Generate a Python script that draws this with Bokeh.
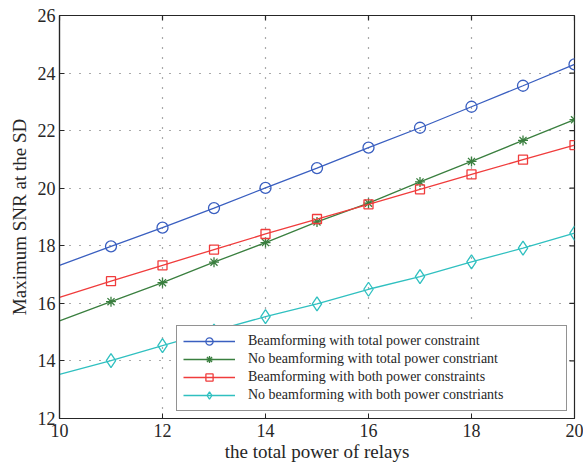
import math
from bokeh.plotting import figure
from bokeh.models import FixedTicker, Range1d, Legend, LegendItem
from bokeh.embed import file_html
from bokeh.resources import INLINE

# ---- data ----
power = [10, 11, 12, 13, 14, 15, 16, 17, 18, 19, 20]
bf_total = [17.32, 17.98, 18.63, 19.31, 20.01, 20.70, 21.41, 22.10, 22.83, 23.56, 24.30]
nobf_total = [15.39, 16.06, 16.72, 17.43, 18.11, 18.83, 19.48, 20.22, 20.93, 21.66, 22.38]
bf_both = [16.21, 16.77, 17.32, 17.87, 18.41, 18.93, 19.44, 19.96, 20.48, 20.99, 21.50]
nobf_both = [13.53, 14.01, 14.53, 15.04, 15.54, 15.98, 16.49, 16.93, 17.44, 17.92, 18.44]
labels = [
    "Beamforming with total power constraint",
    "No beamforming with total power constriant",
    "Beamforming with both power constraints",
    "No beamforming with both power constriants",
]
x_ticks = [10, 12, 14, 16, 18, 20]
y_ticks = [12, 14, 16, 18, 20, 22, 24, 26]
x_lim = (10, 20)
y_lim = (12, 26)

FONT = "Liberation Serif"
TXT = "#262626"

p = figure(width=583, height=464, output_backend="svg", toolbar_location=None,
           x_range=Range1d(*x_lim), y_range=Range1d(*y_lim),
           min_border_left=59, min_border_right=9, min_border_top=15, min_border_bottom=43,
           background_fill_color="white", border_fill_color="white")
p.outline_line_color = TXT
p.outline_line_width = 1.2

for ax in (p.xaxis[0], p.yaxis[0]):
    ax.major_label_text_font = FONT
    ax.major_label_text_font_size = "18px"
    ax.major_label_text_color = TXT
    ax.axis_label_text_font = FONT
    ax.axis_label_text_font_size = "19px"
    ax.axis_label_text_font_style = "normal"
    ax.axis_label_text_color = TXT
    ax.major_tick_in = 5
    ax.major_tick_out = 0
    ax.minor_tick_line_color = None
    ax.axis_line_color = TXT
    ax.axis_line_width = 1.2
    ax.major_tick_line_color = TXT

p.xaxis[0].ticker = FixedTicker(ticks=x_ticks)
p.yaxis[0].ticker = FixedTicker(ticks=y_ticks)
p.xaxis[0].axis_label = "the total power of relays"
p.yaxis[0].axis_label = "Maximum SNR at the SD"
p.xaxis[0].major_label_standoff = 5
p.xaxis[0].axis_label_standoff = 1
p.yaxis[0].major_label_standoff = 4
p.yaxis[0].axis_label_standoff = 5

# inward ticks on the top and right sides of the box
p.ray(x=x_ticks, y=[y_lim[1]] * len(x_ticks), length=5, length_units="screen",
      angle=-math.pi / 2, line_color=TXT, line_width=1.2)
p.ray(x=[x_lim[1]] * len(y_ticks), y=y_ticks, length=5, length_units="screen",
      angle=math.pi, line_color=TXT, line_width=1.2)

p.xgrid.ticker = FixedTicker(ticks=x_ticks[1:-1])
p.ygrid.ticker = FixedTicker(ticks=y_ticks[1:-1])
for g in (p.xgrid[0], p.ygrid[0]):
    g.grid_line_color = "#555555"
    g.grid_line_dash = "1 9"
    g.grid_line_width = 1.2

colors = ["#3a5fc0", "#3a7f3f", "#f03c3c", "#30c0c0"]
markers = ["circle", "asterisk", "square", "diamond"]
sizes = [11, 10, 9, 14]
series = [bf_total, nobf_total, bf_both, nobf_both]

items = []
for ys, c, m, s, lab in zip(series, colors, markers, sizes, labels):
    ln = p.line(power, ys, line_color=c, line_width=1.3)
    mk = p.scatter(power[1:], ys[1:], marker=m, size=s, line_color=c,
                   fill_color=None, line_width=1.3)
    items.append(LegendItem(label=lab, renderers=[ln, mk]))

legend = Legend(items=items, location="bottom_right", margin=7,
                padding=6, spacing=0, glyph_width=52, glyph_height=18,
                label_height=18, label_standoff=13, label_width=312,
                label_text_font=FONT, label_text_font_size="14px",
                label_text_color=TXT, border_line_color=TXT, border_line_width=1.2,
                background_fill_color="white", background_fill_alpha=1.0)
p.add_layout(legend, "center")

open("out.html", "w").write(file_html(p, INLINE))
